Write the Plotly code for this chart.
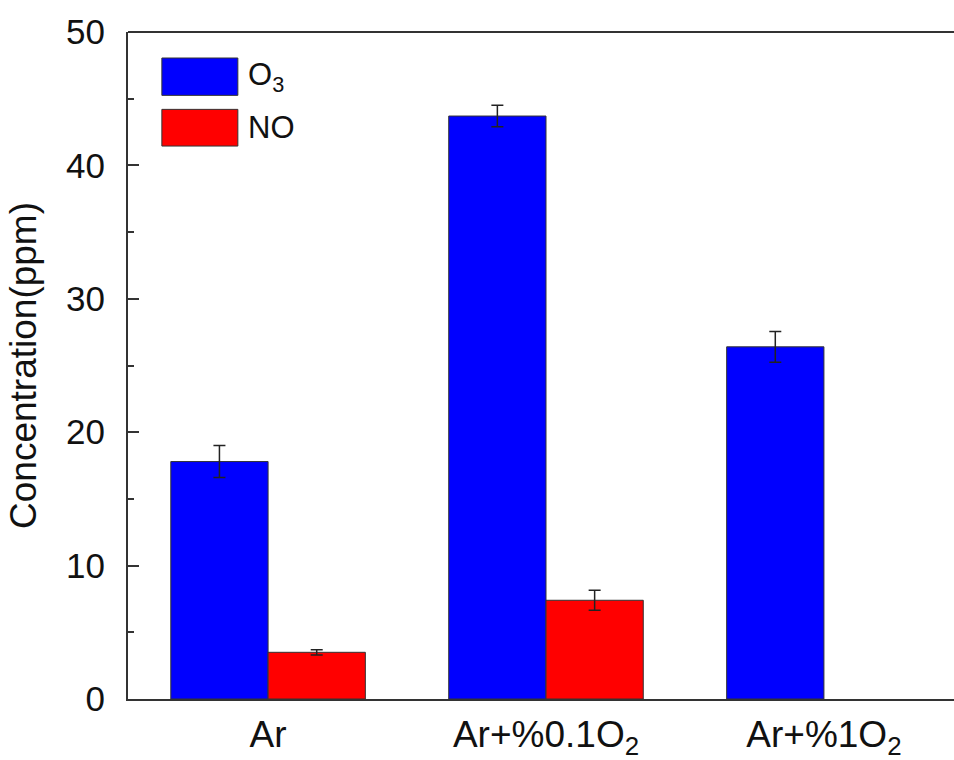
import plotly.graph_objects as go

categories = ["Ar", "Ar+%0.1O<sub>2</sub>", "Ar+%1O<sub>2</sub>"]
o3_values = [17.8, 43.7, 26.4]
o3_errors = [1.2, 0.8, 1.15]
no_values = [3.5, 7.4, None]
no_errors = [0.2, 0.75, None]
series_names = ["O<sub>3</sub>", "NO"]
series_colors = ["#0000FF", "#FF0000"]
y_ticks = [0, 10, 20, 30, 40, 50]

FONT = "Arial, Liberation Sans, sans-serif"

fig = go.Figure()
for name, vals, errs, col in [
    (series_names[0], o3_values, o3_errors, series_colors[0]),
    (series_names[1], no_values, no_errors, series_colors[1]),
]:
    fig.add_trace(go.Bar(
        x=categories, y=vals, name=name,
        marker=dict(color=col, line=dict(color="#333333", width=1)),
        error_y=dict(type="data", array=errs, visible=True,
                     color="#222222", thickness=1.5, width=6),
        showlegend=False,
    ))

# custom legend with large swatches, as in the reference
legend_rows = [(0.961, 0.905), (0.884, 0.829)]
for (y1, y0), name, col in zip(legend_rows, series_names, series_colors):
    fig.add_shape(type="rect", xref="paper", yref="paper",
                  x0=0.041, x1=0.133, y0=y0, y1=y1,
                  fillcolor=col, line=dict(color="#333333", width=1))
    fig.add_annotation(xref="paper", yref="paper", x=0.143, y=(y0 + y1) / 2,
                       text=name, showarrow=False, xanchor="left", yanchor="middle",
                       font=dict(family=FONT, size=31, color="#111111"))

# top frame line (the right side of the frame is cropped off in the reference)
fig.add_shape(type="line", xref="paper", yref="paper", x0=0, x1=1, y0=1, y1=1,
              line=dict(color="#333333", width=2))

fig.update_layout(
    width=954, height=760,
    margin=dict(l=128, r=0, t=32, b=52),
    paper_bgcolor="white", plot_bgcolor="white",
    barmode="group", bargap=0.3, bargroupgap=0,
    font=dict(family=FONT, color="#111111"),
    xaxis=dict(
        range=[-0.504, 2.468], showline=True, mirror=False,
        linecolor="#333333", linewidth=2, ticks="",
        tickfont=dict(family=FONT, size=37, color="#111111"),
        ticklabelstandoff=2,
        showgrid=False, zeroline=False,
    ),
    yaxis=dict(
        range=[0, 50], tickvals=y_ticks, showline=True, mirror=False,
        linecolor="#333333", linewidth=2, ticks="inside", ticklen=11,
        tickwidth=1.5, tickcolor="#333333",
        minor=dict(ticks="inside", ticklen=6, dtick=5, tickwidth=1.5, tickcolor="#333333", showgrid=False),
        tickfont=dict(family=FONT, size=35, color="#111111"),
        ticklabelstandoff=14,
        title=dict(text="Concentration(ppm)", font=dict(family=FONT, size=37, color="#111111"), standoff=18),
        showgrid=False, zeroline=False,
    ),
)

fig.write_html(
    "out.html",
    config={"displayModeBar": False},
    post_script="document.body.style.margin='0';document.body.style.overflow='hidden';",
)
